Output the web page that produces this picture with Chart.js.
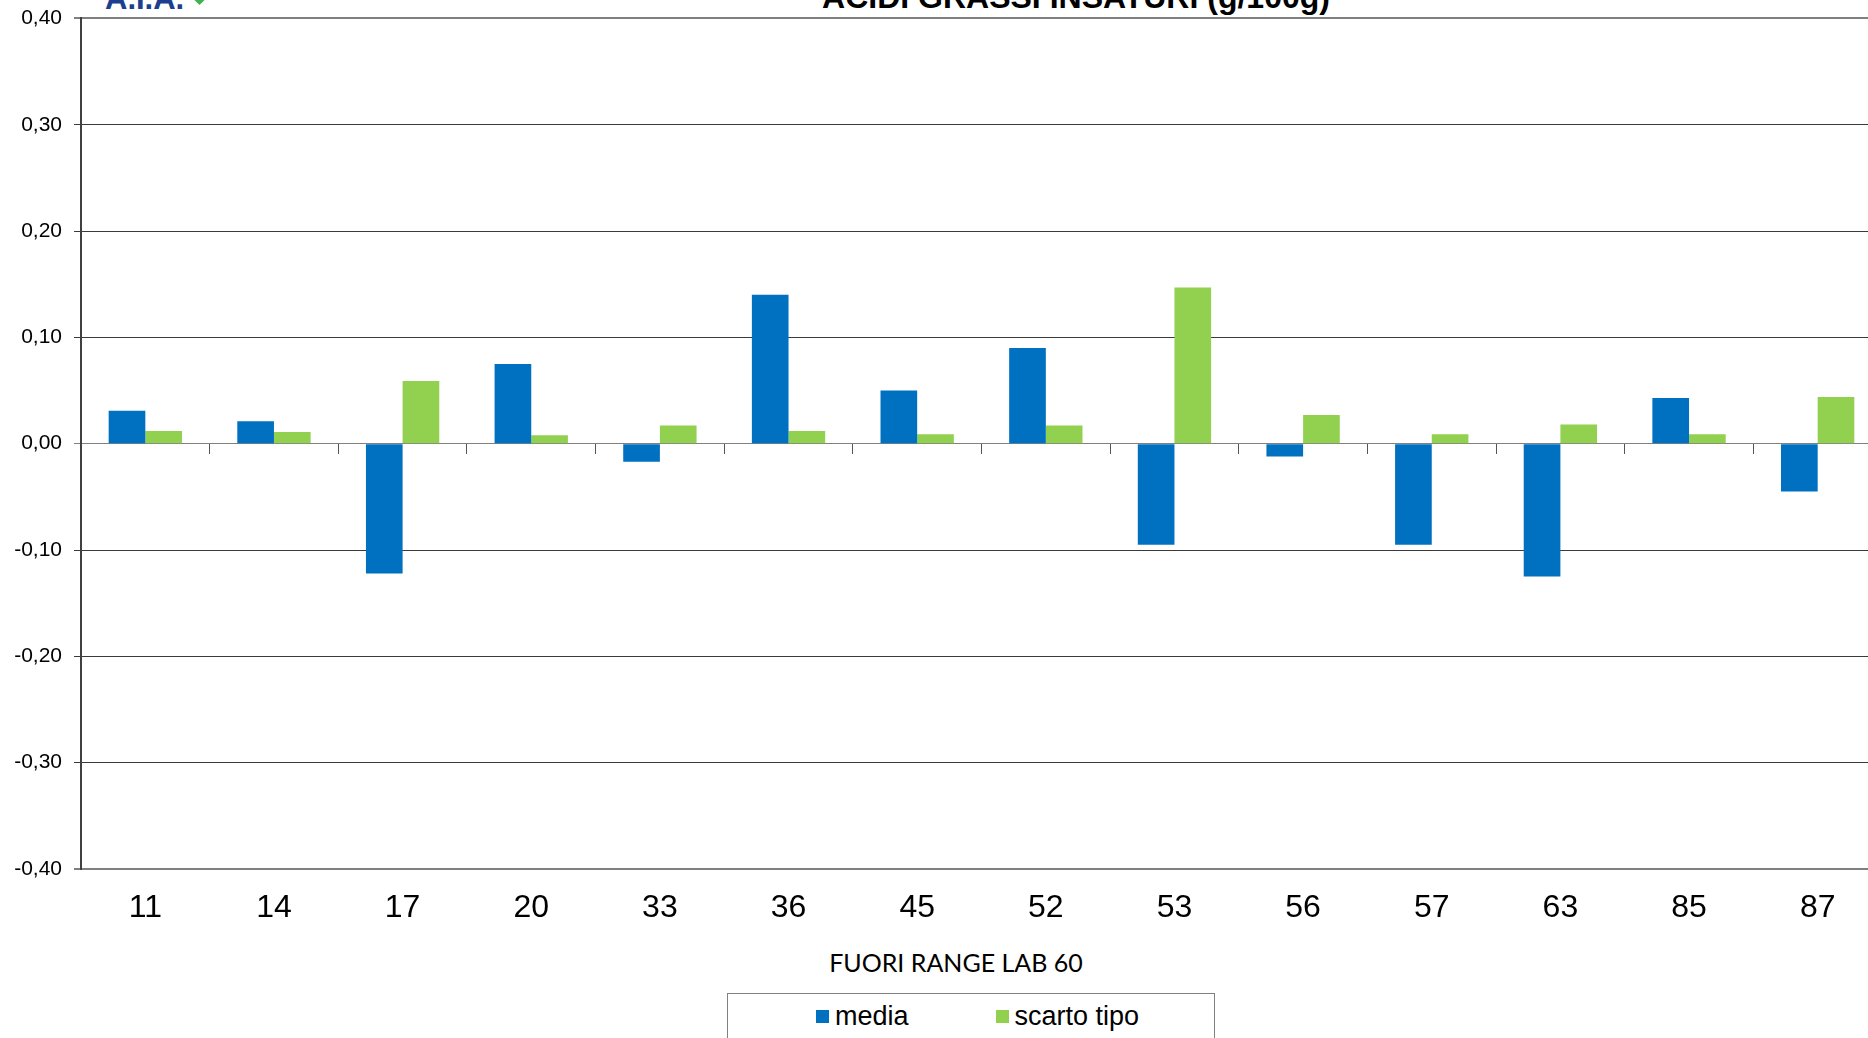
<!DOCTYPE html>
<html lang="it">
<head>
<meta charset="utf-8">
<title>Acidi grassi insaturi – fuori range lab 60</title>
<script src="https://cdn.jsdelivr.net/npm/chart.js@4.4.1/dist/chart.umd.min.js"></script>
<style>
  html,body{margin:0;padding:0;background:#fff;overflow:hidden;width:1868px;height:1038px}
  body{position:relative;font-family:'Liberation Sans',Arial,sans-serif;color:#000}
  #wrap{position:absolute;left:0;top:0;width:1882px;height:929px}
  .logo{position:absolute;left:105px;top:-17px;font:bold 31px/31px 'Liberation Sans',Arial,sans-serif;color:#1d3f8e}
  .leaf{position:absolute;left:192px;top:-13px;width:15px;height:15px;background:#3fb34f;transform:rotate(45deg)}
  .title{position:absolute;left:676px;width:800px;top:-19px;text-align:center;font:bold 32px/32px 'Liberation Sans',Arial,sans-serif}
  .xtitle{position:absolute;left:656px;width:600px;top:950px;text-align:center;font:25px/25px Lato,'Open Sans',sans-serif}
  #legend{position:absolute;left:727px;top:993px;width:488px;height:90px;border:1px solid #808080;box-sizing:border-box;
          padding:8px 0 0 88px;display:flex;align-items:flex-start}
  #legend .item{display:flex;align-items:center;height:28px;margin-right:87px;font:27px/28px 'Liberation Sans',Arial,sans-serif;white-space:nowrap}
  #legend .sw{width:13px;height:13px;margin-right:6px;flex:none}
</style>
</head>
<body>
<div class="logo">A.I.A.</div><div class="leaf"></div>
<div class="title">ACIDI GRASSI INSATURI (g/100g)</div>
<div id="wrap"><canvas id="chart"></canvas></div>
<div class="xtitle">FUORI RANGE LAB 60</div>
<div id="legend"></div>
<script>
// laboratori (asse x)
const labs = ['11','14','17','20','33','36','45','52','53','56','57','63','85','87'];
// media e scarto tipo (g/100g)
const media      = [0.031, 0.021, -0.122, 0.075, -0.017, 0.140, 0.050, 0.090, -0.095, -0.012, -0.095, -0.125, 0.043, -0.045];
const scartoTipo = [0.012, 0.011,  0.059, 0.008,  0.017, 0.012, 0.009, 0.017,  0.147,  0.027,  0.009,  0.018, 0.009,  0.044];
// scala y
const yMin = -0.4, yMax = 0.4, yStep = 0.1;

(function(){
  const blue = '#0070C0', green = '#92D050';
  const gridDark = '#3a3a3a', gridGray = '#808080';

  Chart.defaults.font.family = "'Liberation Sans', Arial, sans-serif";
  Chart.defaults.color = '#000';

  const fmt = v => (Math.abs(v) < 1e-9 ? 0 : v).toFixed(2).replace('.', ',');
  const isEdge = v => Math.abs(Math.abs(v) - yMax) < 1e-9;

  // legenda HTML con bordo, generata dai dataset
  const htmlLegend = {
    id: 'htmlLegend',
    afterUpdate(chart){
      const box = document.getElementById('legend');
      box.innerHTML = chart.data.datasets.map(ds =>
        `<div class="item"><span class="sw" style="background:${ds.backgroundColor}"></span>${ds.label}</div>`).join('');
    }
  };

  new Chart(document.getElementById('chart'), {
    type: 'bar',
    data: {
      labels: labs,
      datasets: [
        { label: 'media', data: media, backgroundColor: blue, borderWidth: 0 },
        { label: 'scarto tipo', data: scartoTipo, backgroundColor: green, borderWidth: 0 }
      ]
    },
    options: {
      responsive: true, maintainAspectRatio: false, animation: false,
      layout: { padding: { top: 18.4, left: 0, right: 0, bottom: 0 } },
      datasets: { bar: { categoryPercentage: 0.57, barPercentage: 1.0 } },
      plugins: { legend: { display: false }, tooltip: { enabled: false } },
      scales: {
        x: {
          position: 'bottom',
          offset: true,
          grid: { display: false, drawTicks: false },
          border: { display: false },
          ticks: { font: { size: 32 }, color: '#000', padding: 20, autoSkip: false, maxRotation: 0 },
          afterFit: s => { s.height = 60; }
        },
        // asse che incrocia lo zero: solo i segni di graduazione tra le categorie
        xZero: {
          type: 'category',
          position: { y: 0 },
          offset: true,
          grid: { offset: true, drawOnChartArea: false, drawTicks: true, tickLength: 10, color: '#555', lineWidth: 1 },
          border: { display: false },
          ticks: { display: false }
        },
        y: {
          min: yMin, max: yMax,
          border: { display: true, color: '#404040', width: 2 },
          grid: {
            tickLength: 7,
            color: c => {
              const v = c.tick ? c.tick.value : 0;
              return (isEdge(v) || Math.abs(v) < 1e-9) ? gridGray : gridDark;
            },
            lineWidth: c => (c.tick && isEdge(c.tick.value)) ? 2 : 1
          },
          ticks: { stepSize: yStep, font: { size: 21 }, color: '#000', padding: 12, callback: v => fmt(v) },
          afterFit: s => { s.width = 81; s.paddingTop = 0; s.paddingBottom = 0; }
        }
      }
    },
    plugins: [htmlLegend]
  });
})();
</script>
</body>
</html>
